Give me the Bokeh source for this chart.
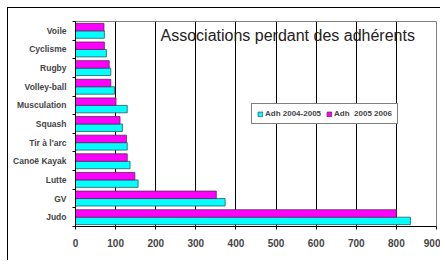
from bokeh.plotting import figure
from bokeh.models import FixedTicker, Range1d, Legend, LegendItem, Label, ColumnDataSource, InlineStyleSheet
from bokeh.embed import file_html
from bokeh.resources import INLINE

categories = ["Judo", "GV", "Lutte", "Canoë Kayak", "Tir à l'arc", "Squash",
              "Musculation", "Volley-ball", "Rugby", "Cyclisme", "Voile"]
adh_2004_2005 = [835, 373, 156, 136, 129, 117, 129, 97, 88, 77, 72]
adh_2005_2006 = [800, 351, 148, 129, 127, 111, 101, 88, 84, 72, 71]
series_names = ["Adh 2004-2005", "Adh  2005 2006"]
x_ticks = [0, 100, 200, 300, 400, 500, 600, 700, 800, 900]
title_text = "Associations perdant des adhérents"

FONT = "Liberation Sans"

pos = [i + 0.5 for i in range(len(categories))]
src = ColumnDataSource(dict(
    y_a=[p - 0.2 for p in pos],
    y_b=[p + 0.2 for p in pos],
    a=adh_2004_2005,
    b=adh_2005_2006,
))

p = figure(width=440, height=260, output_backend="svg", toolbar_location=None,
           x_range=Range1d(0, 900), y_range=Range1d(0, len(categories)),
           min_border_left=75, min_border_top=21, min_border_right=4,
           min_border_bottom=34)
p.background_fill_color = "white"
p.border_fill_color = "white"
p.outline_line_color = "#808080"
p.outline_line_width = 1

# outer chart border (only left and top edges are visible in the crop)
p.stylesheets = [InlineStyleSheet(css="""
:host { overflow: hidden; }
:host::after {
  content: ""; position: absolute; left: 7px; top: 7px;
  width: 1000px; height: 1000px;
  border-left: 1px solid black; border-top: 1px solid black;
  pointer-events: none; z-index: 100;
}
""")]

ra = p.hbar(y="y_a", right="a", left=0, height=0.4, source=src,
            fill_color="#00FFFF", line_color="#2a5a5a", line_width=0.8)
rb = p.hbar(y="y_b", right="b", left=0, height=0.4, source=src,
            fill_color="#FF00FF", line_color="#5a2a5a", line_width=0.8)

# x axis
p.xaxis.ticker = FixedTicker(ticks=x_ticks)
p.xaxis.axis_line_color = "black"
p.xaxis.major_tick_line_color = "black"
p.xaxis.major_tick_out = 3
p.xaxis.major_tick_in = 0
p.xaxis.minor_tick_line_color = None
p.xaxis.major_label_text_font = FONT
p.xaxis.major_label_text_font_style = "bold"
p.xaxis.major_label_text_font_size = "10px"
p.xaxis.major_label_standoff = 9

# y axis
p.yaxis.ticker = FixedTicker(ticks=pos, minor_ticks=list(range(len(categories) + 1)))
p.yaxis.major_label_overrides = {pv: c for pv, c in zip(pos, categories)}
p.yaxis.axis_line_color = "black"
p.yaxis.major_tick_out = 0
p.yaxis.major_tick_in = 0
p.yaxis.minor_tick_out = 3
p.yaxis.minor_tick_in = 0
p.yaxis.minor_tick_line_color = "black"
p.yaxis.major_label_text_font = FONT
p.yaxis.major_label_text_font_style = "bold"
p.yaxis.major_label_text_font_size = "8.5px"
p.yaxis.major_label_standoff = 6

# grid
p.ygrid.grid_line_color = None
p.xgrid.ticker = FixedTicker(ticks=x_ticks[1:-1])
p.xgrid.grid_line_color = "black"
p.xgrid.grid_line_width = 1

# title inside plot
p.add_layout(Label(x=212, y=10.23, text=title_text, text_font=FONT,
                   text_font_size="16px", text_color="#222222",
                   text_baseline="alphabetic"))

legend = Legend(items=[LegendItem(label=series_names[0], renderers=[ra]),
                       LegendItem(label=series_names[1], renderers=[rb])],
                orientation="horizontal", location=(176, 102),
                label_text_font=FONT, label_text_font_style="bold",
                label_text_font_size="8px", glyph_width=6, glyph_height=6,
                label_standoff=2, spacing=5, padding=5, margin=0,
                label_height=9, border_line_color="black", border_line_width=1,
                background_fill_alpha=1)
p.add_layout(legend)

open("out.html", "w").write(file_html(p, INLINE))
